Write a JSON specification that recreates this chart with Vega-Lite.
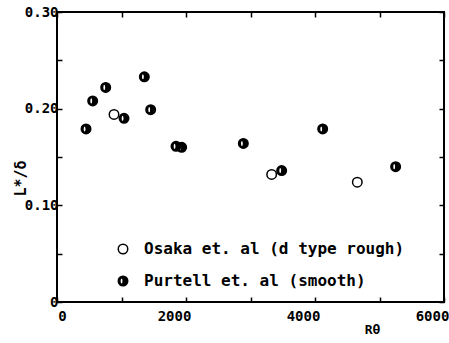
{
  "$schema": "https://vega.github.io/schema/vega-lite/v6.json",
  "width": 387,
  "height": 290,
  "autosize": {"type": "none"},
  "padding": {"left": 57, "top": 12, "right": 5, "bottom": 41},
  "background": "white",
  "config": {
    "view": {"stroke": "black", "strokeWidth": 2},
    "axis": {
      "grid": false,
      "domain": false,
      "tickColor": "black",
      "tickWidth": 1.5,
      "tickSize": -5,
      "labelFont": "DejaVu Sans Mono",
      "labelFontWeight": "bold",
      "labelFontSize": 14,
      "labelColor": "black",
      "labelOverlap": false,
      "labelFlush": false,
      "titleColor": "black",
      "titleFont": "DejaVu Sans Mono",
      "titleFontWeight": "bold"
    },
    "legend": {
      "orient": "none",
      "legendX": 58,
      "legendY": 229,
      "padding": 0,
      "labelFont": "DejaVu Sans Mono",
      "labelFontWeight": "bold",
      "labelFontSize": 16,
      "labelColor": "black",
      "labelLimit": 0,
      "symbolSize": 90,
      "symbolStrokeColor": "black",
      "symbolStrokeWidth": 1.5,
      "symbolOpacity": 1,
      "rowPadding": 16,
      "labelOffset": 13
    }
  },
  "data": {
    "values": [
      {"Re": 450, "L": 0.179, "source": "Purtell et. al (smooth)"},
      {"Re": 553, "L": 0.208, "source": "Purtell et. al (smooth)"},
      {"Re": 755, "L": 0.222, "source": "Purtell et. al (smooth)"},
      {"Re": 1039, "L": 0.190, "source": "Purtell et. al (smooth)"},
      {"Re": 1354, "L": 0.233, "source": "Purtell et. al (smooth)"},
      {"Re": 1452, "L": 0.199, "source": "Purtell et. al (smooth)"},
      {"Re": 1845, "L": 0.161, "source": "Purtell et. al (smooth)"},
      {"Re": 1933, "L": 0.160, "source": "Purtell et. al (smooth)"},
      {"Re": 2889, "L": 0.164, "source": "Purtell et. al (smooth)"},
      {"Re": 3483, "L": 0.136, "source": "Purtell et. al (smooth)"},
      {"Re": 4119, "L": 0.179, "source": "Purtell et. al (smooth)"},
      {"Re": 5250, "L": 0.140, "source": "Purtell et. al (smooth)"},
      {"Re": 884, "L": 0.194, "source": "Osaka et. al (d type rough)"},
      {"Re": 3328, "L": 0.132, "source": "Osaka et. al (d type rough)"},
      {"Re": 4656, "L": 0.124, "source": "Osaka et. al (d type rough)"}
    ]
  },
  "layer": [
    {
      "mark": {"type": "point", "filled": true, "strokeWidth": 1.5, "size": 90, "opacity": 1},
      "encoding": {
        "x": {
          "field": "Re", "type": "quantitative",
          "scale": {"domain": [0, 6000], "nice": false, "zero": false},
          "axis": {
            "orient": "bottom",
            "values": [0, 1000, 2000, 3000, 4000, 5000, 6000],
            "labelExpr": "datum.value % 2000 === 0 ? format(datum.value, 'd') : ''",
            "labelPadding": 12,
            "labelOffset": {"condition": {"test": "datum.value === 0", "value": 5}, "value": -12},
            "title": "Rθ",
            "titleFontSize": 13,
            "titleX": 315,
            "titleY": 21
          }
        },
        "y": {
          "field": "L", "type": "quantitative",
          "scale": {"domain": [0, 0.3], "nice": false, "zero": false},
          "axis": {
            "orient": "left",
            "values": [0, 0.05, 0.1, 0.15, 0.2, 0.25, 0.3],
            "labelExpr": "round(datum.value * 100) % 10 === 0 ? (datum.value === 0 ? '0' : format(datum.value, '.2f')) : ''",
            "labelPadding": 4,
            "labelDy": 3,
            "title": "L*/δ",
            "titleFontSize": 15,
            "titleX": -29,
            "titleY": 166
          }
        },
        "shape": {
          "field": "source", "type": "nominal",
          "scale": {
            "domain": ["Osaka et. al (d type rough)", "Purtell et. al (smooth)"],
            "range": [
              "M0,-1A1,1 0 1,1 0,1A1,1 0 1,1 0,-1Z",
              "M0,-1A1,1 0 1,1 0,1A1,1 0 1,1 0,-1Z M-0.3,-0.7A0.35,0.7 0 1,0 -0.3,0.7A0.35,0.7 0 1,0 -0.3,-0.7Z"
            ]
          },
          "legend": {"title": null}
        },
        "fill": {
          "field": "source", "type": "nominal",
          "scale": {
            "domain": ["Osaka et. al (d type rough)", "Purtell et. al (smooth)"],
            "range": ["white", "black"]
          },
          "legend": {"title": null}
        },
        "stroke": {
          "field": "source", "type": "nominal",
          "scale": {
            "domain": ["Osaka et. al (d type rough)", "Purtell et. al (smooth)"],
            "range": ["black", "black"]
          },
          "legend": {"title": null}
        }
      }
    },
    {
      "mark": {"type": "point", "opacity": 0},
      "encoding": {
        "x": {
          "field": "Re", "type": "quantitative",
          "scale": {"domain": [0, 6000], "nice": false, "zero": false},
          "axis": {"orient": "top", "values": [0, 1000, 2000, 3000, 4000, 5000, 6000], "labels": false, "title": null}
        },
        "y": {
          "field": "L", "type": "quantitative",
          "scale": {"domain": [0, 0.3], "nice": false, "zero": false},
          "axis": {"orient": "right", "values": [0, 0.05, 0.1, 0.15, 0.2, 0.25, 0.3], "labels": false, "title": null}
        }
      }
    }
  ],
  "resolve": {"axis": {"x": "independent", "y": "independent"}}
}
